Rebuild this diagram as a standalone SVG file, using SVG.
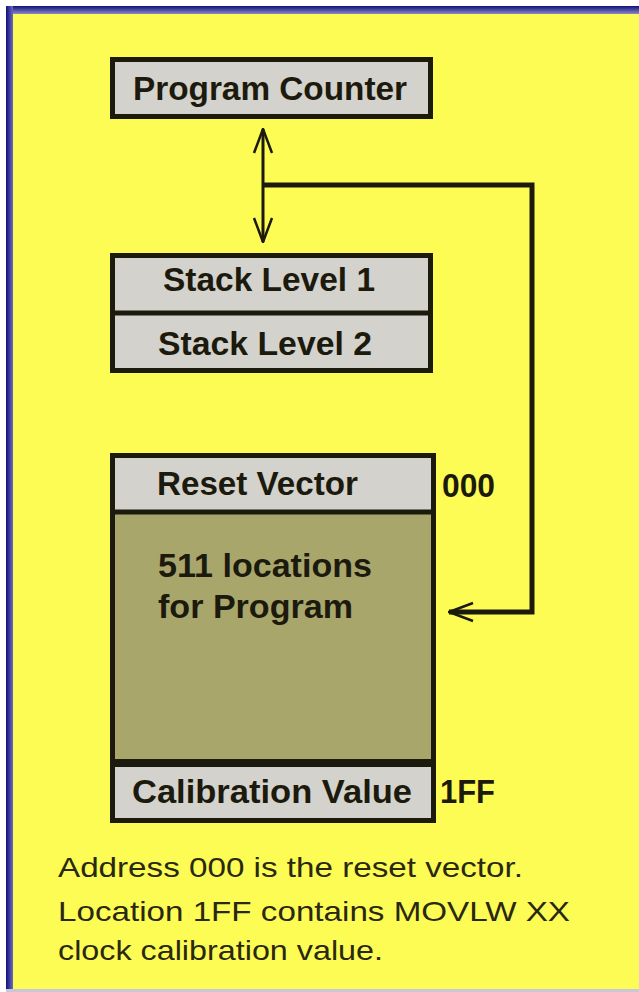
<svg xmlns="http://www.w3.org/2000/svg" width="639" height="992" viewBox="0 0 639 992">
  <style>
    .box { stroke: #1c1a0c; stroke-width: 5; }
    .gray { fill: #d3d2cc; }
    .olive { fill: #a9a66c; }
    .lbl { font-family: "Liberation Sans", Arial, sans-serif; font-weight: bold; font-size: 34px; fill: #1c1a0c; }
    .note { font-family: "Liberation Sans", Arial, sans-serif; font-size: 28px; fill: #2a2810; }
    .wire { fill: none; stroke: #1c1a0c; }
  </style>
  <defs>
    <linearGradient id="topBand" x1="0" y1="0" x2="0" y2="1">
      <stop offset="0" stop-color="#10107a"/>
      <stop offset="1" stop-color="#8a8ac8"/>
    </linearGradient>
    <linearGradient id="leftBand" x1="0" y1="0" x2="1" y2="0">
      <stop offset="0" stop-color="#10107a"/>
      <stop offset="1" stop-color="#6a6ac0"/>
    </linearGradient>
    <marker id="chev" viewBox="0 0 26 22" markerWidth="26" markerHeight="22" refX="25" refY="11" orient="auto-start-reverse" markerUnits="userSpaceOnUse">
      <path d="M1,2 L25,11 L1,20" fill="none" stroke="#1c1a0c" stroke-width="2.5"/>
    </marker>
  </defs>

  <rect x="0" y="0" width="639" height="992" fill="#ffffff"/>
  <rect x="6" y="6" width="633" height="984" fill="#fdfc55"/>
  <rect x="6" y="6" width="633" height="8" fill="url(#topBand)"/>
  <rect x="6" y="6" width="7" height="984" fill="url(#leftBand)"/>
  <rect x="6" y="989" width="633" height="3" fill="#c8c8d6"/>

  <g id="program-counter">
    <rect class="box gray" x="112.5" y="59.5" width="318" height="57"/>
    <text class="lbl" x="133" y="100" textLength="274" lengthAdjust="spacingAndGlyphs">Program Counter</text>
  </g>

  <g id="stack">
    <rect class="box gray" x="112.5" y="255.5" width="318" height="115"/>
    <line x1="112" y1="313" x2="431" y2="313" stroke="#1c1a0c" stroke-width="5"/>
    <text class="lbl" x="163" y="291" textLength="212" lengthAdjust="spacingAndGlyphs">Stack Level 1</text>
    <text class="lbl" x="158" y="355" textLength="214" lengthAdjust="spacingAndGlyphs">Stack Level 2</text>
  </g>

  <g id="memory">
    <rect class="box olive" x="112.5" y="455.5" width="321" height="365"/>
    <rect class="gray" x="115" y="458" width="316" height="52"/>
    <rect class="gray" x="115" y="767" width="316" height="51"/>
    <line x1="112" y1="512" x2="434" y2="512" stroke="#1c1a0c" stroke-width="5"/>
    <line x1="112" y1="763" x2="434" y2="763" stroke="#1c1a0c" stroke-width="8"/>
    <text class="lbl" x="157" y="495" textLength="201" lengthAdjust="spacingAndGlyphs">Reset Vector</text>
    <text class="lbl" x="158" y="577" textLength="214" lengthAdjust="spacingAndGlyphs">511 locations</text>
    <text class="lbl" x="158" y="618" textLength="195" lengthAdjust="spacingAndGlyphs">for Program</text>
    <text class="lbl" x="132" y="803" textLength="280" lengthAdjust="spacingAndGlyphs">Calibration Value</text>
  </g>

  <g id="addresses">
    <text class="lbl" x="442" y="497" textLength="53" lengthAdjust="spacingAndGlyphs">000</text>
    <text class="lbl" x="440" y="803" textLength="55" lengthAdjust="spacingAndGlyphs">1FF</text>
  </g>

  <g id="connectors">
    <line class="wire" x1="263" y1="129" x2="263" y2="242" stroke-width="3" marker-start="url(#chev)" marker-end="url(#chev)"/>
    <polyline class="wire" points="263,185 532,185 532,612 449,612" stroke-width="5" marker-end="url(#chev)"/>
  </g>

  <g id="note">
    <text class="note" x="58" y="877" textLength="465" lengthAdjust="spacingAndGlyphs">Address 000 is the reset vector.</text>
    <text class="note" x="58" y="921" textLength="512" lengthAdjust="spacingAndGlyphs">Location 1FF contains MOVLW XX</text>
    <text class="note" x="58" y="960" textLength="325" lengthAdjust="spacingAndGlyphs">clock calibration value.</text>
  </g>
</svg>
